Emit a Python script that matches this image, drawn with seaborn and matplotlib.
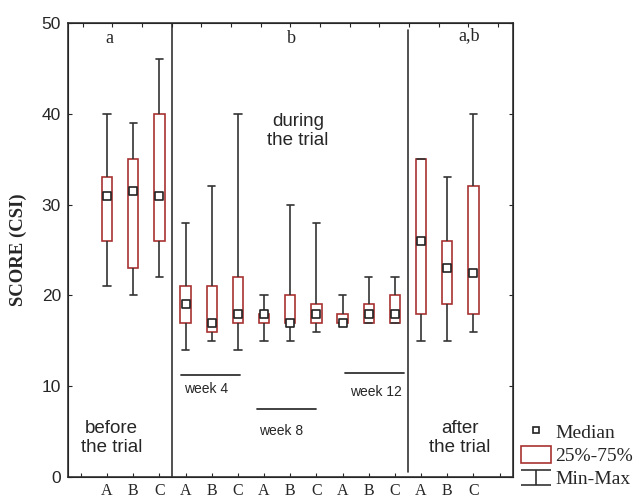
import numpy as np
import pandas as pd
import matplotlib.pyplot as plt
from matplotlib.patches import Patch
from matplotlib.lines import Line2D
from matplotlib.path import Path
import seaborn as sns

# 5 periods x 3 groups: before, week 4, week 8, week 12, after
groups = ["A", "B", "C"] * 5
mins = [21, 20, 22, 14, 15, 14, 15, 15, 16, 17, 17, 17, 15, 15, 16]
q1 = [26, 23, 26, 17, 16, 17, 17, 17, 17, 17, 17, 17, 18, 19, 18]
med = [31, 31.5, 31, 19, 17, 18, 18, 17, 18, 17, 18, 18, 26, 23, 22.5]
q3 = [33, 35, 40, 21, 21, 22, 18, 20, 19, 18, 19, 20, 35, 26, 32]
maxs = [40, 39, 46, 28, 32, 40, 20, 30, 28, 20, 22, 22, 35, 33, 40]

sns.set_style("ticks")
plt.rcParams['font.family'] = ['Liberation Sans', 'DejaVu Sans']
serif = ['Liberation Serif', 'DejaVu Serif']

pos = np.arange(1, 16)
# five values per box -> quartiles land exactly on the stats
df = pd.DataFrame({
    "pos": np.repeat(pos, 5),
    "score": np.column_stack([mins, q1, med, q3, maxs]).ravel(),
})

box_red = "#a83232"
dark = "#333333"

fig = plt.figure(figsize=(6.4, 5), dpi=100)
ax = fig.add_axes([0.106, 0.046, 0.695, 0.908])

sns.boxplot(data=df, x="pos", y="score", native_scale=True, whis=(0, 100),
            width=0.4, color="white", linecolor=dark, linewidth=1.2,
            capwidths=0.28, boxprops=dict(edgecolor=box_red),
            medianprops=dict(visible=False), ax=ax)
for p in ax.patches:
    p.set_edgecolor(box_red)
sns.scatterplot(x=pos, y=med, marker="s", s=28, color="white",
                edgecolor="#222222", linewidth=1.2, zorder=5, ax=ax)

ax.set_xlim(-0.5, 16.5)
ax.set_ylim(0, 50)
ax.set_xticks(np.arange(0, 17))
ax.set_xticklabels([""] + groups + [""], fontfamily=serif, fontsize=11.5)
ax.set_yticks(np.arange(0, 51, 10))
ax.tick_params(axis='y', labelsize=12.5, direction='in', length=3, right=True, pad=5)
ax.tick_params(axis='x', direction='in', length=3, pad=4)
ax.set_xlabel("")
ax.set_ylabel("SCORE (CSI)", fontfamily=serif, fontweight="bold", fontsize=13.5)
ax.yaxis.set_label_coords(-0.092, 0.5)
for s in ax.spines.values():
    s.set_visible(True)
    s.set_color(dark)
    s.set_linewidth(1.2)

ax2 = ax.twiny()
ax2.set_xlim(0, 15)
ax2.set_xticks(np.arange(15) + 0.5)
ax2.tick_params(axis='x', direction='in', length=3, labeltop=False, top=True)

ax.axvline(3.5, ymin=0.0, ymax=1.0, color=dark, lw=1.2)
ax.axvline(12.5, ymin=0.01, ymax=0.985, color=dark, lw=1.2)

ax.text(1.1, 48.3, "a", ha="center", va="center", fontfamily=serif, fontsize=13)
ax.text(8.05, 48.3, "b", ha="center", va="center", fontfamily=serif, fontsize=13)
ax.text(14.85, 48.6, "a,b", ha="center", va="center", fontfamily=serif, fontsize=13)

ax.text(8.3, 38.1, "during\nthe trial", ha="center", va="center", fontsize=13.5, linespacing=1.2)
ax.text(1.18, 4.3, "before\nthe trial", ha="center", va="center", fontsize=13.5, linespacing=1.2)
ax.text(14.47, 4.3, "after\nthe trial", ha="center", va="center", fontsize=13.5, linespacing=1.2)

ax.plot([3.84, 6.07], [11.2, 11.2], color=dark, lw=1.3)
ax.text(4.8, 9.7, "week 4", ha="center", va="center", fontsize=10)
ax.plot([6.73, 9.0], [7.5, 7.5], color=dark, lw=1.3)
ax.text(7.64, 5.07, "week 8", ha="center", va="center", fontsize=10)
ax.plot([10.1, 12.35], [11.5, 11.5], color=dark, lw=1.3)
ax.text(11.29, 9.4, "week 12", ha="center", va="center", fontsize=10)

minmax = Path([(-1, 0.5), (1, 0.5), (0, 0.5), (0, -0.5), (-1, -0.5), (1, -0.5)],
              [Path.MOVETO, Path.LINETO, Path.MOVETO, Path.LINETO, Path.MOVETO, Path.LINETO])
handles = [
    Line2D([], [], marker="s", linestyle="none", markersize=4.5, markerfacecolor="white",
           markeredgecolor="#222222", markeredgewidth=1.2),
    Patch(facecolor="white", edgecolor=box_red, linewidth=1.2),
    Line2D([], [], marker=minmax, linestyle="none", markersize=21.6, markerfacecolor="none",
           markeredgecolor=dark, markeredgewidth=1.2),
]
fig.legend(handles, ["Median", "25%-75%", "Min-Max"], loc="upper left",
           bbox_to_anchor=(0.814, 0.155), frameon=False, prop=dict(family=serif, size=14),
           handlelength=1.55, handleheight=0.95, handletextpad=0.2, borderpad=0,
           borderaxespad=0, labelspacing=0.22)

fig.savefig("out.png", dpi=100)
